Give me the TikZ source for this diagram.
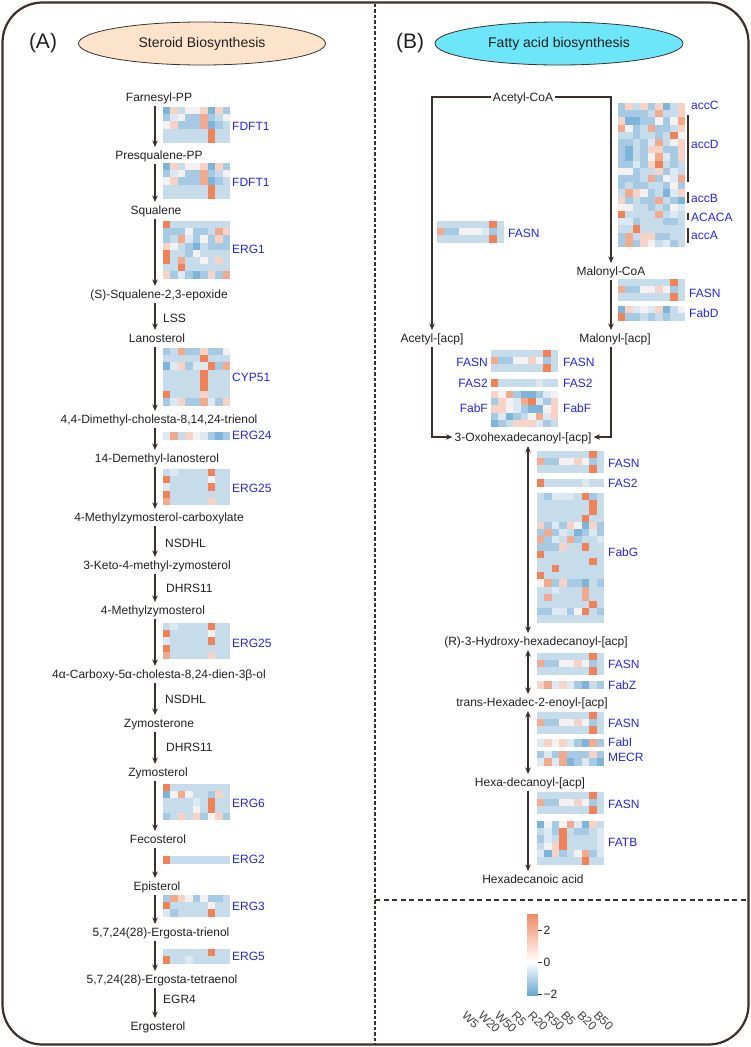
\documentclass[tikz,border=0pt]{standalone}
\usepackage{fontspec}
\setmainfont{Liberation Sans}
\usetikzlibrary{arrows.meta,shapes.geometric}
\definecolor{txt}{HTML}{231F20}
\definecolor{gene}{HTML}{2424F2}
\definecolor{lnc}{HTML}{3A302C}
\definecolor{peach}{HTML}{FCE4CC}
\definecolor{cyanb}{HTML}{6EE6FA}
\definecolor{hcb}{HTML}{C6DCEB}
\definecolor{hcl}{HTML}{DDE9F2}
\definecolor{hcw}{HTML}{F3F1F1}
\definecolor{hcm}{HTML}{A6CAE3}
\definecolor{hcd}{HTML}{7DB4DA}
\definecolor{hcp}{HTML}{F6D3C6}
\definecolor{hcq}{HTML}{F2AA8E}
\definecolor{hco}{HTML}{EF8259}
\definecolor{legor}{HTML}{EE8B66}
\definecolor{legbl}{HTML}{67A9D2}
\newcommand\fsz{\fontsize{12}{14}\selectfont}
\def\cw{7.45}
\def\ch{7.2}
\newcommand\hcell[2]{\fill[hc#2] ({\hmx+#1*\cw},{\hmy}) rectangle ++({\cw+0.3},{\ch+0.3});}
\def\hrow#1#2#3#4#5#6#7#8#9{\hcell{0}{#1}\hcell{1}{#2}\hcell{2}{#3}\hcell{3}{#4}\hcell{4}{#5}\hcell{5}{#6}\hcell{6}{#7}\hcell{7}{#8}\hcell{8}{#9}}
\newcommand\hmap[3]{\def\hmx{#1}\foreach \hrw [count=\hi from 0] in {#3}{\pgfmathsetmacro\hmy{#2+\hi*\ch}\expandafter\hrow\hrw}}
\tikzset{
 met/.style={font=\fsz, text=txt, inner sep=0pt, text height=8.6pt, text depth=0pt},
 enz/.style={met, anchor=west},
 gn/.style={font=\fsz, text=gene, inner sep=0pt, text height=8.6pt, text depth=0pt, anchor=west},
 gnr/.style={gn, anchor=east},
 arr/.style={draw=lnc, line width=1.1pt, -{Stealth[length=6.5pt,width=5.5pt]}, shorten <=4.5pt, shorten >=3.5pt},
 darr/.style={arr, {Stealth[length=6.5pt,width=5.5pt]}-{Stealth[length=6.5pt,width=5.5pt]}},
 ttl/.style={ellipse, draw=lnc, line width=0.8pt, minimum width=247pt, minimum height=43pt, inner sep=0pt, font=\fontsize{14}{16}\selectfont, text=txt},
 plbl/.style={font=\fontsize{21}{24}\selectfont, text=txt, inner sep=0pt},
 col/.style={font=\fsz, text=txt!85, inner sep=0pt, rotate=-45, anchor=west},
 bar/.style={draw=lnc, line width=1.8pt},
}
\begin{document}
\begin{tikzpicture}[x=1pt,y=-1pt]
\useasboundingbox (0,0) rectangle (751,1047);
% frame
\draw[lnc, line width=2.2pt, rounded corners=40pt] (2.5,2.5) rectangle (748.5,1044.5);
\draw[lnc, line width=1.6pt, dash pattern=on 3.5pt off 2pt] (375,3.5) -- (375,1043.5);
\draw[lnc, line width=1.6pt, dash pattern=on 5pt off 3.5pt] (375,900) -- (747.5,900);
% titles
\node[plbl] (lblA) at (43,43) {(A)};
\node[plbl] (lblB) at (410,43) {(B)};
\node[ttl, fill=peach] (ttlA) at (202,43.5) {Steroid Biosynthesis};
\node[ttl, fill=cyanb, minimum width=248pt] (ttlB) at (559,43.5) {Fatty acid biosynthesis};

% ===== left panel =====
\coordinate (lx) at (155,0);
\node[met] (fpp) at (159,97) {Farnesyl-PP};
\node[met] (pqpp) at (159,155) {Presqualene-PP};
\node[met] (sq) at (156,210) {Squalene};
\node[met] (sqe) at (159,294) {(S)-Squalene-2,3-epoxide};
\node[met] (lan) at (157,338) {Lanosterol};
\node[met] (dmc) at (159,419) {4,4-Dimethyl-cholesta-8,14,24-trienol};
\node[met] (dml) at (157,458) {14-Demethyl-lanosterol};
\node[met] (mzc) at (159,517) {4-Methylzymosterol-carboxylate};
\node[met] (kmz) at (157,565) {3-Keto-4-methyl-zymosterol};
\node[met] (mz) at (153,610) {4-Methylzymosterol};
\node[met] (cdo) at (159,674) {4α-Carboxy-5α-cholesta-8,24-dien-3β-ol};
\node[met] (zyn) at (159,723) {Zymosterone};
\node[met] (zyl) at (158,772) {Zymosterol};
\node[met] (fec) at (158,839) {Fecosterol};
\node[met] (epi) at (157,886) {Episterol};
\node[met] (tri) at (161,932) {5,7,24(28)-Ergosta-trienol};
\node[met] (tet) at (162,979) {5,7,24(28)-Ergosta-tetraenol};
\node[met] (erg) at (158,1026) {Ergosterol};

\foreach \a/\b in {fpp/pqpp, pqpp/sq, sq/sqe, sqe/lan, lan/dmc, dmc/dml, dml/mzc, mzc/kmz, kmz/mz, mz/cdo, cdo/zyn, zyn/zyl, zyl/fec, fec/epi, epi/tri, tri/tet, tet/erg}
  \draw[arr] (lx |- \a.south) -- (lx |- \b.north);

\node[enz] (lss) at (163,318) {LSS};
\node[enz] (nsd1) at (165,543) {NSDHL};
\node[enz] (dhr1) at (166,588) {DHRS11};
\node[enz] (nsd2) at (165,699) {NSDHL};
\node[enz] (dhr2) at (166,747) {DHRS11};
\node[enz] (egr4) at (163,999) {EGR4};

\hmap{163}{107}{dpbwwpdpm,mlwmmqmbw,wpmmmqdmb,bbbbbbobb,bbbbbbobb}
\hmap{163}{163}{dpbwwpdpm,mlwmmqmbw,wpmmmqdmb,bbbbbbobb,bbbbbbobb}
\hmap{163}{221}{obbbbbbbb,mmmwmmbqp,mbqlmwmpm,pwbmdbmmm,obbmwbbbb,obqbbwbpb,bbobbbbbb,pmlmdmpmq}
\hmap{163}{348}{mbqmmpmmw,bbbbbobbb,dlpmllomq,bbbbbobbb,bbbbbobbb,bbbbbobbb,obbbbpbbb,mlpmmqlmp}
\hmap{163}{432}{lqbpwlmdm}
\hmap{163}{469}{blbbbbobb,obbbbbwbb,lbbbbbobb,obbbbbbbb,qbbbbbpbb}
\hmap{163}{623}{blbbbbobb,obbbbbwbb,lbbbbbobb,obbbbbbbb,qbbbbbpbb}
\hmap{163}{784}{obbbbbbbb,dwqwbbmpb,bbbblbobb,bbbbwbobb,mbpbpmwpm}
\hmap{163}{856}{obbbbbbbb}
\hmap{163}{895}{mqpwmwmmb,obbbbbwbb,lmbbbbobb}
\hmap{163}{949}{bbbbbbobb,obblbbbbb}

\node[gn] (g1) at (232,126) {FDFT1};
\node[gn] (g2) at (232,182) {FDFT1};
\node[gn] (g3) at (232,249) {ERG1};
\node[gn] (g4) at (232,377) {CYP51};
\node[gn] (g5) at (232,435) {ERG24};
\node[gn] (g6) at (232,488) {ERG25};
\node[gn] (g7) at (232,643) {ERG25};
\node[gn] (g8) at (232,803) {ERG6};
\node[gn] (g9) at (232,859) {ERG2};
\node[gn] (g10) at (232,906) {ERG3};
\node[gn] (g11) at (232,956) {ERG5};

% ===== right panel =====
\node[met, inner xsep=2pt] (acoa) at (523,97) {Acetyl-CoA};
\node[met] (mcoa) at (611,271) {Malonyl-CoA};
\node[met] (aacp) at (432,338) {Acetyl-[acp]};
\node[met] (macp) at (615,338) {Malonyl-[acp]};
\node[met] (oxo) at (523,437) {3-Oxohexadecanoyl-[acp]};
\node[met] (hyd) at (536,641) {(R)-3-Hydroxy-hexadecanoyl-[acp]};
\node[met] (trs) at (532,702) {trans-Hexadec-2-enoyl-[acp]};
\node[met] (hxa) at (530,782) {Hexa-decanoyl-[acp]};
\node[met] (acid) at (533,879) {Hexadecanoic acid};

\draw[arr, shorten <=0pt] (acoa.west) -| (aacp.north);
\draw[arr, shorten <=0pt] (acoa.east) -| (mcoa.north);
\draw[arr] (mcoa.south) -- (mcoa.south |- macp.north);
\draw[arr, shorten >=2pt] (aacp.south) |- (oxo.west);
\draw[arr, shorten >=2pt] (mcoa.south |- macp.south) |- (oxo.east);
\coordinate (rx) at (528,0);
\draw[darr] (rx |- oxo.south) -- (rx |- hyd.north);
\draw[darr] (rx |- hyd.south) -- (rx |- trs.north);
\draw[darr] (rx |- trs.south) -- (rx |- hxa.north);
\draw[arr] (rx |- hxa.south) -- (rx |- acid.north);

% heatmaps right
\hmap{437}{221}{bbbbbbbob,qmmwwwlmb,bbbbbbbob}
\hmap{618}{103}{mpbpmpdbp,mmmmbqbbp,pddmmwmwq,qwmbqmmbp,bbmbbmbow,mmbmlqbwp,mdbmppmmp,mdbmwqlmp,mmlmpobmb,wwmbbpmlb,mmmbqmwlq,mbmmbbmwm,bqpwmbdlp,pmbmmqbmd,wwbbmbmwl,obbbbqblb,llmbbbmmb,bbobbbbbb,mqbppmmbb,mqmpwblmb}
\hmap{618}{279}{bbbbbbbob,qmmwwpwmb,bbbbbbbob}
\hmap{618}{306}{dplwlpdbw,ommbmbmbb}
\hmap{491}{350}{bbbbbbbob,qmmwwpwmb,bbbbbbbob}
\hmap{491}{379}{obbbbblbb}
\hmap{491}{391}{pwqmddmlw,mpwlqolmp,ppwlmddwp,mldmbwqlp,dmbppplmb}
\hmap{537}{451}{bbbbbbbob,qmmwwpwmb,bbbbbbbob}
\hmap{537}{479}{obbbbblbb}
\hmap{537}{493}{bmlllbomb,bbbbbbbob,bbbbbbbob,bbbbbbobb,pmlmpwdpm,mqmlbdmlm,qmlbqmbbl,mmmpbbobb,obbbbbbbb,bbbbbbbob,bbobbbbbb,obbbbbbbb,wqmpmmdbm,bblbbbqbb,bqbbbbqbb,bbbbbbbob,mmllmwobm,bbbbbbbbb}
\hmap{537}{653}{bbbbbbbob,qmmwwpwmb,bbbbbbbob}
\hmap{537}{681}{pqlplmdbm}
\hmap{537}{712}{bbbbbbbob,qmmwwpwmb,bbbbbbbob}
\hmap{537}{739}{lpwplmdqm}
\hmap{537}{751}{mlmqmmmpm,lqlqdmlmd}
\hmap{537}{792}{bbbbbbbob,qmmwwpwmb,bbbbbbbob}
\hmap{537}{821}{dwmwqldpb,blmobmmbl,mlbobbbbl,bwpobbbbl,ldpmbwqml,bbbbbbobb}

% gene labels right
\node[gn] (r1) at (508,233) {FASN};
\node[gn] (r2) at (691,105) {accC};
\node[gn] (r3) at (691,144) {accD};
\node[gn] (r4) at (691,198) {accB};
\node[gn] (r5) at (691,217) {ACACA};
\node[gn] (r6) at (691,235) {accA};
\draw[bar] (688,115) -- (688,182);
\draw[bar] (688,192) -- (688,203);
\draw[bar] (688,213) -- (688,220);
\draw[bar] (688,228) -- (688,243);
\node[gn] (r7) at (689,293) {FASN};
\node[gn] (r8) at (689,313) {FabD};
\node[gnr] (r9) at (488,362) {FASN};
\node[gn] (r10) at (563,362) {FASN};
\node[gnr] (r11) at (488,383) {FAS2};
\node[gn] (r12) at (563,383) {FAS2};
\node[gnr] (r13) at (488,408) {FabF};
\node[gn] (r14) at (563,408) {FabF};
\node[gn] (r15) at (608,463) {FASN};
\node[gn] (r16) at (608,483) {FAS2};
\node[gn] (r17) at (608,552) {FabG};
\node[gn] (r18) at (608,664) {FASN};
\node[gn] (r19) at (608,685) {FabZ};
\node[gn] (r20) at (608,723) {FASN};
\node[gn] (r21) at (608,742) {FabI};
\node[gn] (r22) at (608,757) {MECR};
\node[gn] (r23) at (608,804) {FASN};
\node[gn] (r24) at (608,842) {FATB};

% legend
\shade[top color=legor, bottom color=white] (527,914) rectangle (538,962);
\shade[top color=white, bottom color=legbl] (527,962) rectangle (538,995);
\foreach \yy/\tt in {930/2, 962/0, 994/−2}{
  \draw[lnc, line width=0.8pt] (538,\yy) -- (542,\yy);
  \node[font=\fsz, text=txt, anchor=west, inner sep=0pt, text height=8.6pt, text depth=0pt] at (543.5,\yy) {\tt};
}
\foreach \lab [count=\i from 0] in {W5,W20,W50,R5,R20,R50,B5,B20,B50}
  \node[col] at ({464+16.5*\i},1013) {\lab};
\end{tikzpicture}
\end{document}
